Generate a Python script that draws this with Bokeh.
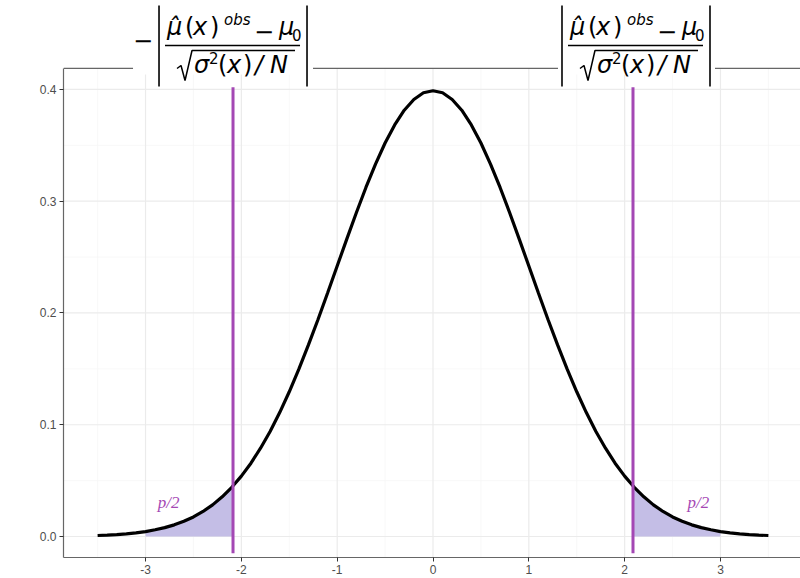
import math
from bokeh.plotting import figure
from bokeh.models import Range1d, FixedTicker, Label
from bokeh.embed import file_html
from bokeh.resources import INLINE

# ---- data ----
x_vals = [-3.5, -3.4, -3.3, -3.2, -3.1, -3.0, -2.9, -2.8, -2.7, -2.6, -2.5, -2.4, -2.3, -2.2, -2.1,
          -2.0, -1.9, -1.8, -1.7, -1.6, -1.5, -1.4, -1.3, -1.2, -1.1, -1.0, -0.9, -0.8, -0.7, -0.6,
          -0.5, -0.4, -0.3, -0.2, -0.1, 0.0, 0.1, 0.2, 0.3, 0.4, 0.5, 0.6, 0.7, 0.8, 0.9, 1.0,
          1.1, 1.2, 1.3, 1.4, 1.5, 1.6, 1.7, 1.8, 1.9, 2.0, 2.1, 2.2, 2.3, 2.4, 2.5, 2.6, 2.7,
          2.8, 2.9, 3.0, 3.1, 3.2, 3.3, 3.4, 3.5]
density = [0.0009, 0.0012, 0.0017, 0.0024, 0.0033, 0.0044, 0.0060, 0.0079, 0.0104, 0.0136, 0.0175,
           0.0224, 0.0283, 0.0355, 0.0440, 0.0540, 0.0656, 0.0790, 0.0940, 0.1109, 0.1295, 0.1497,
           0.1714, 0.1942, 0.2179, 0.2420, 0.2661, 0.2897, 0.3123, 0.3332, 0.3521, 0.3683, 0.3814,
           0.3910, 0.3970, 0.3989, 0.3970, 0.3910, 0.3814, 0.3683, 0.3521, 0.3332, 0.3123, 0.2897,
           0.2661, 0.2420, 0.2179, 0.1942, 0.1714, 0.1497, 0.1295, 0.1109, 0.0940, 0.0790, 0.0656,
           0.0540, 0.0440, 0.0355, 0.0283, 0.0224, 0.0175, 0.0136, 0.0104, 0.0079, 0.0060, 0.0044,
           0.0033, 0.0024, 0.0017, 0.0012, 0.0009]
cutoff = 2.087
cutoff_density = 0.0451
tail_limit = 3.0
vline_bottom = -0.015
vline_top = 0.402
x_ticks = [-3, -2, -1, 0, 1, 2, 3]
x_tick_labels = ["-3", "-2", "-1", "0", "1", "2", "3"]
x_minor = [-3.5, -2.5, -1.5, -0.5, 0.5, 1.5, 2.5, 3.5]
y_ticks = [0.0, 0.1, 0.2, 0.3, 0.4]
y_tick_labels = ["0.0", "0.1", "0.2", "0.3", "0.4"]
y_minor = [0.05, 0.15, 0.25, 0.35]
y_label = "Density"
tail_label = "p/2"
tail_label_pos = [(-2.76, 0.030), (2.77, 0.030)]

# ---- layout / style ----
W, H = 800, 578
LEFT, BOTTOM = 63, 21
X0, X1 = -3.856, 3.835
Y0, YBORDER, Y1 = -0.0188, 0.4188, 0.4796
PURPLE = "#a448b4"
FILL = "#c4bee6"
AXIS = "#666666"
GRID_MAJ, GRID_MIN = "#ebebeb", "#f5f5f5"
MATH_FONT = "DejaVu Sans"
BASELINE_FIX = 0.4  # em; empirical correction of the label baseline

FW, FH = W - LEFT, H - BOTTOM


def dx(px):
    return px * (X1 - X0) / FW


def yat(py):
    return Y1 - py * (Y1 - Y0) / FH


p = figure(width=W, height=H, output_backend="svg", toolbar_location=None,
           x_range=Range1d(X0, X1), y_range=Range1d(Y0, Y1),
           min_border_left=LEFT, min_border_top=0, min_border_bottom=BOTTOM, min_border_right=0,
           background_fill_color="white", border_fill_color="white", outline_line_color=None)
p.xgrid.visible = False
p.ygrid.visible = False

# grid (kept inside the panel border)
p.segment(x0=x_minor, y0=[Y0] * len(x_minor), x1=x_minor, y1=[YBORDER] * len(x_minor),
          line_color=GRID_MIN, line_width=0.7)
p.segment(x0=[X0] * len(y_minor), y0=y_minor, x1=[X1] * len(y_minor), y1=y_minor,
          line_color=GRID_MIN, line_width=0.7)
p.segment(x0=x_ticks, y0=[Y0] * len(x_ticks), x1=x_ticks, y1=[YBORDER] * len(x_ticks),
          line_color=GRID_MAJ, line_width=1.2)
p.segment(x0=[X0] * len(y_ticks), y0=y_ticks, x1=[X1] * len(y_ticks), y1=y_ticks,
          line_color=GRID_MAJ, line_width=1.2)

# top panel border
p.line([X0, X1], [YBORDER, YBORDER], line_color=AXIS, line_width=1.2)

# tails
left_x = [x for x in x_vals if -tail_limit - 1e-9 <= x <= -cutoff] + [-cutoff]
left_y = [d for x, d in zip(x_vals, density) if -tail_limit - 1e-9 <= x <= -cutoff] + [cutoff_density]
right_x = [cutoff] + [x for x in x_vals if cutoff <= x <= tail_limit + 1e-9]
right_y = [cutoff_density] + [d for x, d in zip(x_vals, density) if cutoff <= x <= tail_limit + 1e-9]
p.varea(x=left_x, y1=[0] * len(left_x), y2=left_y, fill_color=FILL)
p.varea(x=right_x, y1=[0] * len(right_x), y2=right_y, fill_color=FILL)

p.line(x_vals, density, line_color="black", line_width=3.2)
p.segment(x0=[-cutoff, cutoff], y0=[vline_bottom] * 2, x1=[-cutoff, cutoff], y1=[vline_top] * 2,
          line_color=PURPLE, line_width=3)

for (lx, ly) in tail_label_pos:
    p.add_layout(Label(x=lx, y=ly, text=tail_label, text_font="Liberation Serif",
                       text_font_style="italic", text_font_size="17px", text_color=PURPLE,
                       text_align="center", text_baseline="middle"))

# axes
for ax, ticks, labels, minor in ((p.xaxis, x_ticks, x_tick_labels, x_minor),
                                 (p.yaxis, y_ticks, y_tick_labels, y_minor)):
    ax.ticker = FixedTicker(ticks=ticks, minor_ticks=minor)
    ax.major_label_overrides = {t: l for t, l in zip(ticks, labels)}
    ax.axis_line_color = AXIS
    ax.axis_line_width = 1.2
    ax.major_tick_line_color = "#333333"
    ax.major_tick_out = 4
    ax.major_tick_in = 0
    ax.minor_tick_out = 0
    ax.minor_tick_in = 0
    ax.major_label_text_color = "#4d4d4d"
    ax.major_label_text_font = "Liberation Sans"
    ax.major_label_text_font_size = "12px"
    ax.major_label_standoff = 3
p.yaxis.bounds = (Y0, YBORDER)

p.add_layout(Label(x=X0, y=(Y0 + YBORDER) / 2, x_offset=-53, text=y_label, angle=math.pi / 2,
                   text_font="Liberation Serif", text_font_size="13px", text_color="black",
                   text_align="center", text_baseline="middle"))

# ---- top labels: -|(mu_hat(x)^obs - mu_0)/sqrt(sigma^2(x)/N)| and |...| ----
# pieces: (text, x offset px from the line, baseline px from top, size px, style)
pieces = [
    ("μ̂", -63, 36, 24, "italic"),
    ("(", -45, 36, 24, "normal"),
    ("x", -37, 36, 24, "italic"),
    (")", -20, 36, 24, "normal"),
    ("obs", -6, 25, 15, "italic"),
    ("−", 24, 40, 24, "normal"),
    ("μ", 49, 36, 24, "italic"),
    ("0", 62, 40, 15, "normal"),
    ("σ", -36, 74, 24, "italic"),
    ("2", -21, 63, 15, "normal"),
    ("(", -12, 74, 24, "normal"),
    ("x", -3, 74, 24, "italic"),
    (")", 13, 74, 24, "normal"),
    ("/", 25, 74, 24, "italic"),
    ("N", 40, 74, 24, "italic"),
]
labels_spec = [(-cutoff, -3, True, (-100, 80)), (cutoff, 0, False, (-75, 82))]
for cx, shift, neg, (g0, g1) in labels_spec:
    # white gap in the panel border
    p.quad(left=[cx + dx(g0)], right=[cx + dx(g1)], bottom=[yat(74)], top=[yat(62)],
           fill_color="white", line_color=None)
    # absolute-value bars
    p.segment(x0=[cx + dx(-71 + shift), cx + dx(77 + shift)], y0=[yat(5)] * 2,
              x1=[cx + dx(-71 + shift), cx + dx(77 + shift)], y1=[yat(86)] * 2,
              line_color="black", line_width=1.6)
    # fraction bar
    p.line([cx + dx(-65 + shift), cx + dx(70 + shift)], [yat(45)] * 2,
           line_color="black", line_width=1.5)
    # radical sign
    rx = [-53, -49, -45, -38, 65]
    ry = [68, 65, 80, 50, 50]
    p.line([cx + dx(v + shift) for v in rx], [yat(v) for v in ry], line_color="black",
           line_width=1.5)
    items = list(pieces)
    if neg:
        items.append(("−", -97, 49, 24, "normal"))
    for txt, ox, by, fs, st in items:
        p.add_layout(Label(x=cx, y=yat(by - BASELINE_FIX * fs), x_offset=ox + shift, text=txt,
                           text_font=MATH_FONT, text_font_style=st, text_font_size=f"{fs}px",
                           text_color="black", text_align="left", text_baseline="alphabetic"))

open("out.html", "w").write(file_html(p, INLINE))
